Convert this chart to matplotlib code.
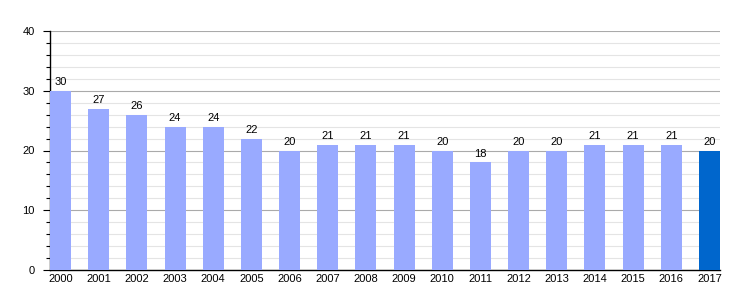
import matplotlib
matplotlib.use('Agg')
import matplotlib.pyplot as plt
from matplotlib.ticker import MultipleLocator

years = ['2000', '2001', '2002', '2003', '2004', '2005', '2006', '2007', '2008',
         '2009', '2010', '2011', '2012', '2013', '2014', '2015', '2016', '2017']
values = [30, 27, 26, 24, 24, 22, 20, 21, 21, 21, 20, 18, 20, 20, 21, 21, 21, 20]

light = '#99aaff'
dark = '#0066cc'
colors = [light] * (len(years) - 1) + [dark]

plt.rcParams['font.family'] = ['Liberation Sans', 'DejaVu Sans']

fig = plt.figure(figsize=(7.5, 3), dpi=100)
ax = fig.add_axes([50 / 750, 30 / 300, 670 / 750, 239 / 300])

x = list(range(len(years)))
ax.bar(x, values, width=0.55, color=colors, zorder=3)
for xi, v in zip(x, values):
    ax.text(xi, v + 0.6, str(v), ha='center', va='bottom', fontsize=8, zorder=4)

ax.set_xlim(-0.275, len(years) - 1 + 0.275)
ax.set_ylim(0, 40)
ax.set_xticks(x)
ax.set_xticklabels(years, fontsize=8)
ax.yaxis.set_major_locator(MultipleLocator(10))
ax.yaxis.set_minor_locator(MultipleLocator(2))
ax.tick_params(axis='y', labelsize=8, length=5, width=0.8, pad=6)
ax.tick_params(axis='y', which='minor', length=3, width=0.8)
ax.tick_params(axis='x', length=0, pad=3)

ax.grid(axis='y', which='major', color='#aaaaaa', linewidth=0.8, zorder=1)
ax.grid(axis='y', which='minor', color='#e4e4e4', linewidth=0.8, zorder=0)

for s in ['top', 'right']:
    ax.spines[s].set_visible(False)
ax.spines['left'].set_linewidth(1)
ax.spines['bottom'].set_linewidth(1)

fig.savefig('out.png', dpi=100, facecolor='white')
